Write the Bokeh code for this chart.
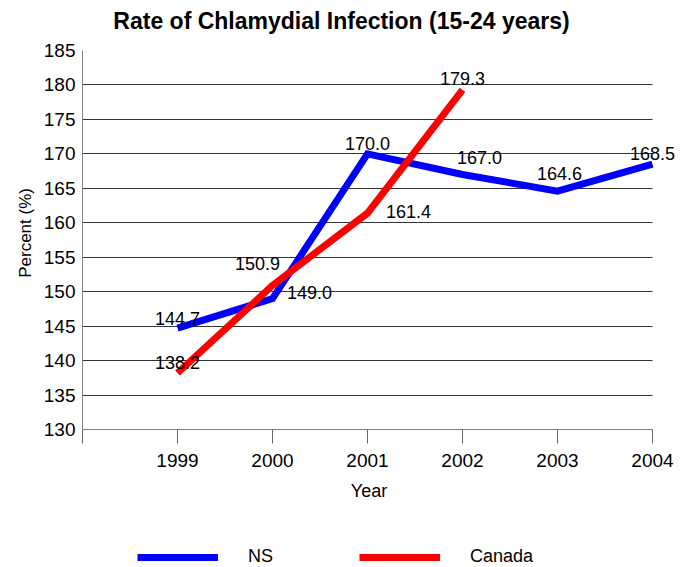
from bokeh.plotting import figure
from bokeh.layouts import column
from bokeh.models import (Range1d, FixedTicker, ColumnDataSource, Legend, LegendItem,
                          Label)
from bokeh.core.properties import value
from bokeh.embed import file_html
from bokeh.resources import INLINE

# ---- data ----
years = [1999, 2000, 2001, 2002, 2003, 2004]
ns_values = [144.7, 149.0, 170.0, 167.0, 164.6, 168.5]
canada_years = [1999, 2000, 2001, 2002]
canada_values = [138.2, 150.9, 161.4, 179.3]
y_ticks = [130, 135, 140, 145, 150, 155, 160, 165, 170, 175, 180, 185]
x_ticks = [1998, 1999, 2000, 2001, 2002, 2003, 2004]
series_names = ["NS", "Canada"]
series_colors = ["#0000FF", "#FF0000"]
title_text = "Rate of Chlamydial Infection (15-24 years)"

# label placement (screen-pixel offsets, styling only)
ns_dx = [0, 37, 0, 17, 2, 0]
ns_dy = [-10, -6, -10, -17, -18, -11]
ca_dx = [0, -15, 41, 0]
ca_dy = [-10, -22, -2, -11]

FONT = "Liberation Sans"
NB = "\u00a0"


def strip_figure(h):
    f = figure(width=685, height=h, output_backend="svg", toolbar_location=None,
               x_range=Range1d(0, 1), y_range=Range1d(0, 1),
               x_axis_location=None, y_axis_location=None,
               min_border=0, min_border_left=0, min_border_right=0,
               min_border_top=0, min_border_bottom=0)
    f.outline_line_color = None
    f.xgrid.visible = False
    f.ygrid.visible = False
    f.background_fill_color = "white"
    f.border_fill_color = "white"
    return f


# ---- title strip ----
tf = strip_figure(38)
tf.add_layout(Label(x=259, y=18, x_units="screen", y_units="screen",
                    text=title_text, text_align="center", text_baseline="middle",
                    text_font=FONT, text_font_size="23px", text_font_style="bold",
                    text_color="black"))

# ---- main chart ----
p = figure(width=685, height=507, output_backend="svg", toolbar_location=None,
           x_range=Range1d(1998, 2004.295), y_range=Range1d(130, 185),
           min_border_left=82, min_border_right=5, min_border_top=12,
           min_border_bottom=116)
p.outline_line_color = None
p.background_fill_color = "white"
p.border_fill_color = "white"

# grids
p.xgrid.visible = False
p.ygrid.ticker = FixedTicker(ticks=y_ticks)
p.ygrid.grid_line_color = "#333333"
p.ygrid.grid_line_width = 1
p.ygrid.cross_bounds = (1998, 2004)

# x axis
xa = p.xaxis[0]
xa.ticker = FixedTicker(ticks=x_ticks)
xa.bounds = (1998, 2004)
xa.major_label_overrides = {1998: ""}
xa.axis_line_color = "#808080"
xa.major_tick_line_color = "#666666"
xa.major_tick_out = 14
xa.major_tick_in = 0
xa.minor_tick_line_color = None
xa.major_label_standoff = 10
xa.major_label_text_font = FONT
xa.major_label_text_font_size = "19px"
xa.major_label_text_color = "black"
xa.axis_label = "Year" + NB * 5
xa.axis_label_text_font = FONT
xa.axis_label_text_font_size = "18px"
xa.axis_label_text_font_style = "normal"
xa.axis_label_text_color = "black"
xa.axis_label_standoff = 11

# y axis
ya = p.yaxis[0]
ya.ticker = FixedTicker(ticks=y_ticks)
ya.axis_line_color = "#808080"
ya.major_tick_out = 0
ya.major_tick_in = 0
ya.minor_tick_line_color = None
ya.major_label_standoff = 7
ya.major_label_text_font = FONT
ya.major_label_text_font_size = "19px"
ya.major_label_text_color = "black"
ya.axis_label = NB * 3 + "Percent (%)"
ya.axis_label_text_font = FONT
ya.axis_label_text_font_size = "17px"
ya.axis_label_text_font_style = "normal"
ya.axis_label_text_color = "black"
ya.axis_label_standoff = 6

# lines
ns_src = ColumnDataSource(dict(x=years, y=ns_values,
                               t=[f"{v:.1f}" for v in ns_values], dx=ns_dx, dy=ns_dy))
ca_src = ColumnDataSource(dict(x=canada_years, y=canada_values,
                               t=[f"{v:.1f}" for v in canada_values], dx=ca_dx, dy=ca_dy))

p.line("x", "y", source=ns_src, line_color=series_colors[0], line_width=7,
       line_join="miter")
p.line("x", "y", source=ca_src, line_color=series_colors[1], line_width=7,
       line_join="miter")

for src in (ns_src, ca_src):
    p.text("x", "y", text="t", source=src, x_offset="dx", y_offset="dy",
           text_align="center", text_baseline="middle",
           text_font=value(FONT), text_font_size="18px", text_color="black")

# ---- legend strip ----
lg = strip_figure(22)
items = []
for name, color in zip(series_names, series_colors):
    # legend swatch renderer; its own points lie outside the strip's visible range
    r = lg.line(x=[-5, -4], y=[-5, -5], line_color=color, line_width=7)
    items.append(LegendItem(label=name, renderers=[r]))

legend = Legend(items=items, orientation="horizontal", location=(55, 0),
                glyph_width=81, glyph_height=18, label_standoff=30, spacing=86,
                padding=0, margin=0, border_line_color=None,
                background_fill_alpha=0, label_text_font=FONT,
                label_text_font_size="18px", label_text_color="black")
lg.add_layout(legend, "center")

layout = column(tf, p, lg, spacing=0)
open("out.html", "w").write(file_html(layout, INLINE))
